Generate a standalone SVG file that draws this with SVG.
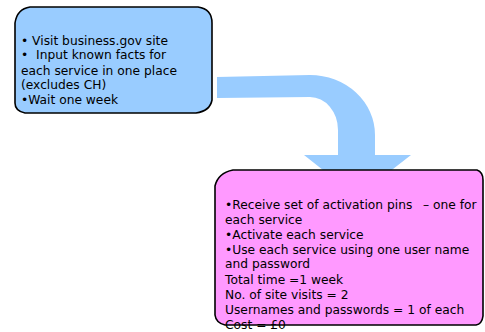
<svg xmlns="http://www.w3.org/2000/svg" width="485" height="332" viewBox="0 0 485 332">
  <style>
    .box { stroke: #000; stroke-width: 1.6; stroke-linejoin: round; }
    .txt { font-family: "DejaVu Sans", Verdana, sans-serif; font-size: 12.25px; fill: #000; white-space: pre; }
  </style>
  <rect width="485" height="332" fill="#fff"/>

  <!-- bent block arrow from the first step to the second -->
  <g id="connectors">
    <path fill="#99ccff" d="M217,77 L310,75 A65,60 0 0 1 375,135 L375,155 L411,155 L357,197 L304,155 L338,155 L338,130 A28,33 0 0 0 310,97 L217,98 Z"/>
  </g>

  <g id="step-register">
    <path class="box" fill="#99ccff" d="M30,7 L198,7 Q212,9 212,23 L212,100 Q210,111 196,113 L25,113 Q15,111 15,103 L15,23 Q17,9 30,7 Z"/>
    <text class="txt" x="21" y="45">• Visit business.gov site</text>
    <text class="txt" x="21" y="59">•  Input known facts for</text>
    <text class="txt" x="21" y="75">each service in one place</text>
    <text class="txt" x="21" y="89">(excludes CH)</text>
    <text class="txt" x="21" y="104">•Wait one week</text>
  </g>

  <g id="step-activate">
    <path class="box" fill="#ff99ff" d="M233,170 L477,170 Q483,172 483,180 L483,316 Q482,324 476,325 L225,325 Q216,323 215,315 L215,186 Q218,173 233,170 Z"/>
    <text class="txt" x="225" y="209">•Receive set of activation pins  <tspan dx="3">– one for</tspan></text>
    <text class="txt" x="225" y="224">each service</text>
    <text class="txt" x="225" y="239">•Activate each service</text>
    <text class="txt" x="225" y="254">•Use each service using one user name</text>
    <text class="txt" x="225" y="268">and password</text>
    <text class="txt" x="225" y="284">Total time =1 week</text>
    <text class="txt" x="225" y="299">No. of site visits = 2</text>
    <text class="txt" x="225" y="314">Usernames and passwords = 1 of each</text>
    <text class="txt" x="225" y="329">Cost = £0</text>
  </g>
</svg>
